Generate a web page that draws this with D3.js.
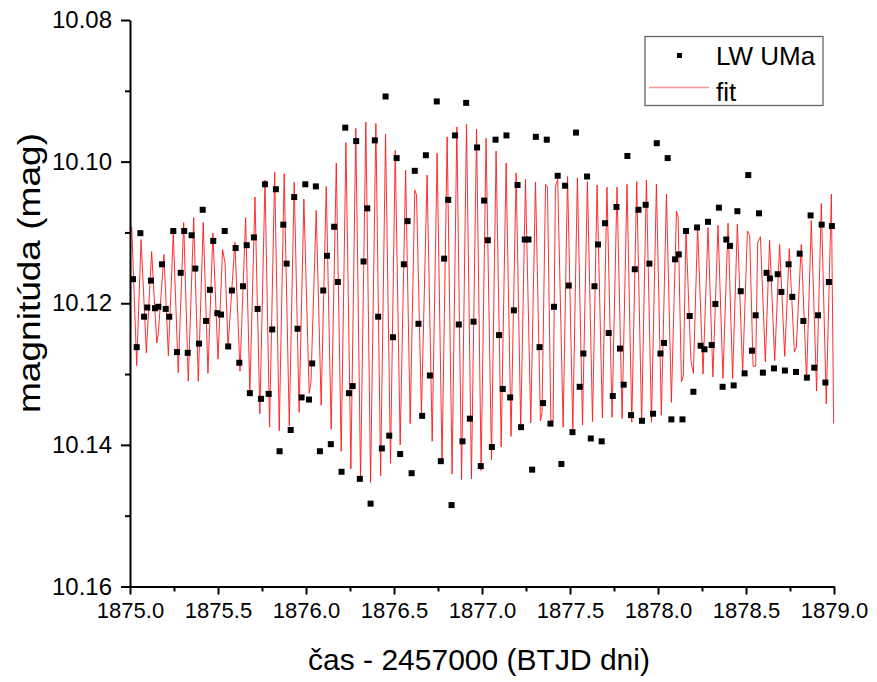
<!DOCTYPE html>
<html>
<head>
<meta charset="utf-8">
<script src="https://cdn.jsdelivr.net/npm/d3@7"></script>
<style>
  html, body { margin: 0; padding: 0; background: #fff; }
  svg { display: block; }
  text { font-family: "Liberation Sans", Arial, sans-serif; fill: #000; }
</style>
</head>
<body>
<svg id="chart" width="877" height="682"></svg>
<script>
// ---- data ----
const obsTime = [
  1875.017, 1875.038, 1875.059, 1875.080, 1875.098, 1875.119, 1875.142, 1875.161, 1875.182, 1875.203,
  1875.223, 1875.246, 1875.267, 1875.288, 1875.308, 1875.328, 1875.350, 1875.371, 1875.392, 1875.413,
  1875.432, 1875.454, 1875.473, 1875.496, 1875.517, 1875.538, 1875.558, 1875.579, 1875.600, 1875.621,
  1875.642, 1875.663, 1875.681, 1875.704, 1875.725, 1875.744, 1875.767, 1875.788, 1875.808, 1875.829,
  1875.850, 1875.871, 1875.890, 1875.913, 1875.933, 1875.952, 1875.975, 1875.996, 1876.017, 1876.035,
  1876.056, 1876.079, 1876.098, 1876.119, 1876.141, 1876.160, 1876.181, 1876.202, 1876.223, 1876.244,
  1876.265, 1876.285, 1876.306, 1876.327, 1876.348, 1876.367, 1876.391, 1876.410, 1876.431, 1876.452,
  1876.473, 1876.494, 1876.515, 1876.535, 1876.556, 1876.577, 1876.600, 1876.618, 1876.639, 1876.660,
  1876.681, 1876.704, 1876.743, 1876.766, 1876.785, 1876.808, 1876.827, 1876.847, 1876.868, 1876.889,
  1876.910, 1876.931, 1876.952, 1876.972, 1876.993, 1877.012, 1877.033, 1877.056, 1877.077, 1877.097,
  1877.118, 1877.139, 1877.160, 1877.181, 1877.202, 1877.222, 1877.243, 1877.264, 1877.285, 1877.306,
  1877.327, 1877.347, 1877.368, 1877.389, 1877.409, 1877.430, 1877.451, 1877.472, 1877.493, 1877.514,
  1877.534, 1877.555, 1877.576, 1877.597, 1877.618, 1877.639, 1877.659, 1877.680, 1877.699, 1877.720,
  1877.743, 1877.764, 1877.784, 1877.805, 1877.826, 1877.847, 1877.868, 1877.889, 1877.909, 1877.930,
  1877.951, 1877.972, 1877.993, 1878.014, 1878.034, 1878.055, 1878.076, 1878.097, 1878.118, 1878.139,
  1878.159, 1878.180, 1878.201, 1878.222, 1878.242, 1878.264, 1878.284, 1878.305, 1878.326, 1878.346,
  1878.367, 1878.388, 1878.409, 1878.430, 1878.451, 1878.470, 1878.492, 1878.513, 1878.534, 1878.555,
  1878.574, 1878.596, 1878.617, 1878.636, 1878.659, 1878.680, 1878.701, 1878.721, 1878.742, 1878.763,
  1878.784, 1878.805, 1878.826, 1878.846, 1878.867, 1878.888, 1878.909, 1878.930, 1878.951, 1878.971,
  1878.988
];
const obsMag = [
  10.1166, 10.1262, 10.1101, 10.1219, 10.1206, 10.1168, 10.1207, 10.1205, 10.1145, 10.1208,
  10.1219, 10.1098, 10.1269, 10.1157, 10.1098, 10.1270, 10.1104, 10.1151, 10.1257, 10.1068,
  10.1225, 10.1181, 10.1112, 10.1214, 10.1216, 10.1098, 10.1261, 10.1182, 10.1122, 10.1284,
  10.1176, 10.1118, 10.1327, 10.1107, 10.1208, 10.1335, 10.1032, 10.1328, 10.1237, 10.1039,
  10.1409, 10.1089, 10.1144, 10.1379, 10.1050, 10.1236, 10.1333, 10.1032, 10.1336, 10.1285,
  10.1035, 10.1409, 10.1182, 10.1133, 10.1399, 10.1092, 10.1170, 10.1438, 10.0952, 10.1327,
  10.1317, 10.0971, 10.1448, 10.1141, 10.1066, 10.1483, 10.0970, 10.1219, 10.1405, 10.0908,
  10.1387, 10.1248, 10.0995, 10.1413, 10.1145, 10.1084, 10.1440, 10.1013, 10.1229, 10.1359,
  10.0991, 10.1302, 10.0915, 10.1423, 10.1137, 10.1054, 10.1485, 10.0963, 10.1230, 10.1395,
  10.0917, 10.1363, 10.1226, 10.0980, 10.1430, 10.1055, 10.1111, 10.1403, 10.0969, 10.1245,
  10.1321, 10.0963, 10.1333, 10.1210, 10.1033, 10.1375, 10.1110, 10.1110, 10.1435, 10.0965,
  10.1262, 10.1341, 10.0969, 10.1370, 10.1205, 10.1020, 10.1427, 10.1034, 10.1175, 10.1382,
  10.0959, 10.1318, 10.1271, 10.1021, 10.1391, 10.1176, 10.1117, 10.1395, 10.1087, 10.1242,
  10.1331, 10.1064, 10.1264, 10.1315, 10.0992, 10.1358, 10.1152, 10.1068, 10.1366, 10.1061,
  10.1144, 10.1356, 10.0974, 10.1271, 10.1256, 10.0995, 10.1364, 10.1138, 10.1131, 10.1364,
  10.1098, 10.1218, 10.1325, 10.1093, 10.1260, 10.1265, 10.1085, 10.1259, 10.1201, 10.1065,
  10.1318, 10.1110, 10.1119, 10.1316, 10.1070, 10.1183, 10.1299, 10.1019, 10.1267, 10.1217,
  10.1073, 10.1298, 10.1157, 10.1165, 10.1292, 10.1159, 10.1184, 10.1295, 10.1145, 10.1191,
  10.1297, 10.1130, 10.1225, 10.1305, 10.1076, 10.1291, 10.1217, 10.1089, 10.1312, 10.1170,
  10.1091
];
// fit curve: turning points (time - 1875)
const fitTimeOffset = [
  0.010, 0.038, 0.063, 0.093, 0.123, 0.152, 0.161, 0.193, 0.218, 0.246,
  0.274, 0.305, 0.331, 0.362, 0.388, 0.416, 0.443, 0.471, 0.500, 0.526,
  0.540, 0.557, 0.596, 0.625, 0.657, 0.681, 0.710, 0.738, 0.767, 0.793,
  0.822, 0.848, 0.876, 0.905, 0.933, 0.961, 0.988, 1.018, 1.028, 1.058,
  1.086, 1.115, 1.143, 1.172, 1.200, 1.227, 1.255, 1.283, 1.310, 1.340,
  1.367, 1.397, 1.424, 1.452, 1.480, 1.507, 1.535, 1.566, 1.592, 1.618,
  1.628, 1.656, 1.688, 1.717, 1.745, 1.773, 1.802, 1.830, 1.857, 1.884,
  1.912, 1.940, 1.969, 1.995, 2.023, 2.054, 2.080, 2.109, 2.137, 2.165,
  2.194, 2.220, 2.247, 2.277, 2.304, 2.332, 2.341, 2.361, 2.372, 2.391,
  2.404, 2.417, 2.430, 2.461, 2.486, 2.516, 2.542, 2.571, 2.599, 2.628,
  2.654, 2.684, 2.710, 2.739, 2.767, 2.796, 2.824, 2.851, 2.879, 2.907,
  2.934, 2.963, 2.991, 3.019, 3.048, 3.076, 3.105, 3.114, 3.133, 3.144,
  3.159, 3.187, 3.201, 3.225, 3.256, 3.284, 3.312, 3.341, 3.369, 3.398,
  3.424, 3.451, 3.481, 3.508, 3.521, 3.540, 3.555, 3.566, 3.582, 3.610,
  3.634, 3.663, 3.691, 3.720, 3.746, 3.775, 3.786, 3.814, 3.844, 3.871,
  3.901, 3.928, 3.956, 3.985, 3.998
];
const fitMag = [
  10.1092, 10.1288, 10.1110, 10.1270, 10.1127, 10.1256, 10.1242, 10.1131, 10.1274, 10.1101,
  10.1298, 10.1086, 10.1310, 10.1079, 10.1310, 10.1086, 10.1299, 10.1101, 10.1279, 10.1124,
  10.1143, 10.1262, 10.1114, 10.1296, 10.1079, 10.1327, 10.1050, 10.1356, 10.1026, 10.1375,
  10.1015, 10.1380, 10.1017, 10.1373, 10.1029, 10.1354, 10.1053, 10.1327, 10.1311, 10.1069,
  10.1344, 10.1035, 10.1378, 10.1002, 10.1409, 10.0973, 10.1434, 10.0953, 10.1450, 10.0944,
  10.1453, 10.0946, 10.1444, 10.0961, 10.1426, 10.0984, 10.1400, 10.1012, 10.1370, 10.1040,
  10.1047, 10.1356, 10.1019, 10.1395, 10.0988, 10.1426, 10.0965, 10.1441, 10.0951, 10.1449,
  10.0947, 10.1448, 10.0954, 10.1436, 10.0967, 10.1421, 10.0985, 10.1403, 10.1002, 10.1388,
  10.1016, 10.1377, 10.1025, 10.1369, 10.1029, 10.1366, 10.1355, 10.1032, 10.1036, 10.1365,
  10.1366, 10.1035, 10.1025, 10.1375, 10.1021, 10.1377, 10.1023, 10.1372, 10.1028, 10.1367,
  10.1033, 10.1362, 10.1036, 10.1361, 10.1036, 10.1363, 10.1032, 10.1368, 10.1028, 10.1369,
  10.1026, 10.1368, 10.1032, 10.1358, 10.1046, 10.1340, 10.1070, 10.1078, 10.1311, 10.1302,
  10.1097, 10.1281, 10.1299, 10.1092, 10.1300, 10.1093, 10.1304, 10.1090, 10.1306, 10.1087,
  10.1306, 10.1088, 10.1299, 10.1098, 10.1104, 10.1289, 10.1289, 10.1115, 10.1106, 10.1283,
  10.1111, 10.1281, 10.1117, 10.1275, 10.1123, 10.1269, 10.1262, 10.1117, 10.1309, 10.1083,
  10.1324, 10.1059, 10.1342, 10.1046, 10.1370
];
const fitTimeBase = 1875;
const xTicks = [1875.0, 1875.5, 1876.0, 1876.5, 1877.0, 1877.5, 1878.0, 1878.5, 1879.0];
const xMinorTicks = [1875.25, 1875.75, 1876.25, 1876.75, 1877.25, 1877.75, 1878.25, 1878.75];
const yTicks = [10.08, 10.10, 10.12, 10.14, 10.16];
const yMinorTicks = [10.09, 10.11, 10.13, 10.15];
const seriesNames = ["LW UMa", "fit"];
const xTitle = "čas - 2457000 (BTJD dni)";
const yTitle = "magnitúda (mag)";

// ---- drawing ----
const svg = d3.select("#chart");
svg.append("rect").attr("width", 877).attr("height", 682).attr("fill", "#fff");

const plot = { left: 130, right: 834, top: 20, bottom: 586.5 };
const x = d3.scaleLinear().domain([1875, 1879]).range([plot.left, plot.right]);
const y = d3.scaleLinear().domain([10.08, 10.16]).range([plot.top, plot.bottom]);

// fit line
const fitData = fitTimeOffset.map((t, i) => ({ t: fitTimeBase + t, m: fitMag[i] }));
const line = d3.line().x(d => x(d.t)).y(d => y(d.m));
svg.append("path")
  .datum(fitData)
  .attr("d", line)
  .attr("fill", "none")
  .attr("stroke", "#ff1a1a")
  .attr("stroke-width", 0.9)
  .attr("stroke-linejoin", "miter");

// observed points
const obs = obsTime.map((t, i) => ({ t, m: obsMag[i] }));
const sq = 6;
svg.append("g").selectAll("rect").data(obs).join("rect")
  .attr("x", d => x(d.t) - sq / 2)
  .attr("y", d => y(d.m) - sq / 2)
  .attr("width", sq).attr("height", sq)
  .attr("fill", "#000");

// axes
function styleAxis(g) {
  g.selectAll("path.domain").attr("stroke", "#000").attr("stroke-width", 2);
  g.selectAll(".tick line").attr("stroke", "#000").attr("stroke-width", 2);
}
const yMinorG = svg.append("g").attr("transform", `translate(${plot.left},0)`)
  .call(d3.axisLeft(y).tickValues(yMinorTicks).tickSize(5).tickFormat(""));
yMinorG.select("path.domain").remove();
styleAxis(yMinorG);
const yG = svg.append("g").attr("transform", `translate(${plot.left},0)`)
  .call(d3.axisLeft(y).tickValues(yTicks).tickSize(9).tickSizeOuter(0).tickPadding(9).tickFormat(d3.format(".2f")));
styleAxis(yG);
yG.selectAll(".tick text").attr("font-size", 24).attr("font-family", "Liberation Sans, Arial, sans-serif");

const xMinorG = svg.append("g").attr("transform", `translate(0,${plot.bottom})`)
  .call(d3.axisBottom(x).tickValues(xMinorTicks).tickSize(5).tickFormat(""));
xMinorG.select("path.domain").remove();
styleAxis(xMinorG);
const xG = svg.append("g").attr("transform", `translate(0,${plot.bottom})`)
  .call(d3.axisBottom(x).tickValues(xTicks).tickSize(8).tickSizeOuter(0).tickPadding(8).tickFormat(d3.format(".1f")));
styleAxis(xG);
xG.selectAll(".tick text").attr("font-size", 22).attr("font-family", "Liberation Sans, Arial, sans-serif");

// axis titles
svg.append("text")
  .attr("x", 479).attr("y", 670)
  .attr("text-anchor", "middle").attr("font-size", 30)
  .text(xTitle);
svg.append("text")
  .attr("transform", `translate(40,273) rotate(-90)`)
  .attr("text-anchor", "middle").attr("font-size", 31)
  .attr("textLength", 280).attr("lengthAdjust", "spacingAndGlyphs")
  .text(yTitle);

// legend
const lg = svg.append("g");
lg.append("rect").attr("x", 645).attr("y", 36.5).attr("width", 178).attr("height", 69)
  .attr("fill", "#fff").attr("stroke", "#666").attr("stroke-width", 1.3);
lg.append("rect").attr("x", 677).attr("y", 53).attr("width", 5).attr("height", 5).attr("fill", "#000");
lg.append("text").attr("x", 716).attr("y", 64.5).attr("font-size", 26).text(seriesNames[0]);
lg.append("line").attr("x1", 649).attr("x2", 709).attr("y1", 87.5).attr("y2", 87.5)
  .attr("stroke", "#ff9494").attr("stroke-width", 1.6);
lg.append("text").attr("x", 716).attr("y", 101).attr("font-size", 26).text(seriesNames[1]);
</script>
</body>
</html>
